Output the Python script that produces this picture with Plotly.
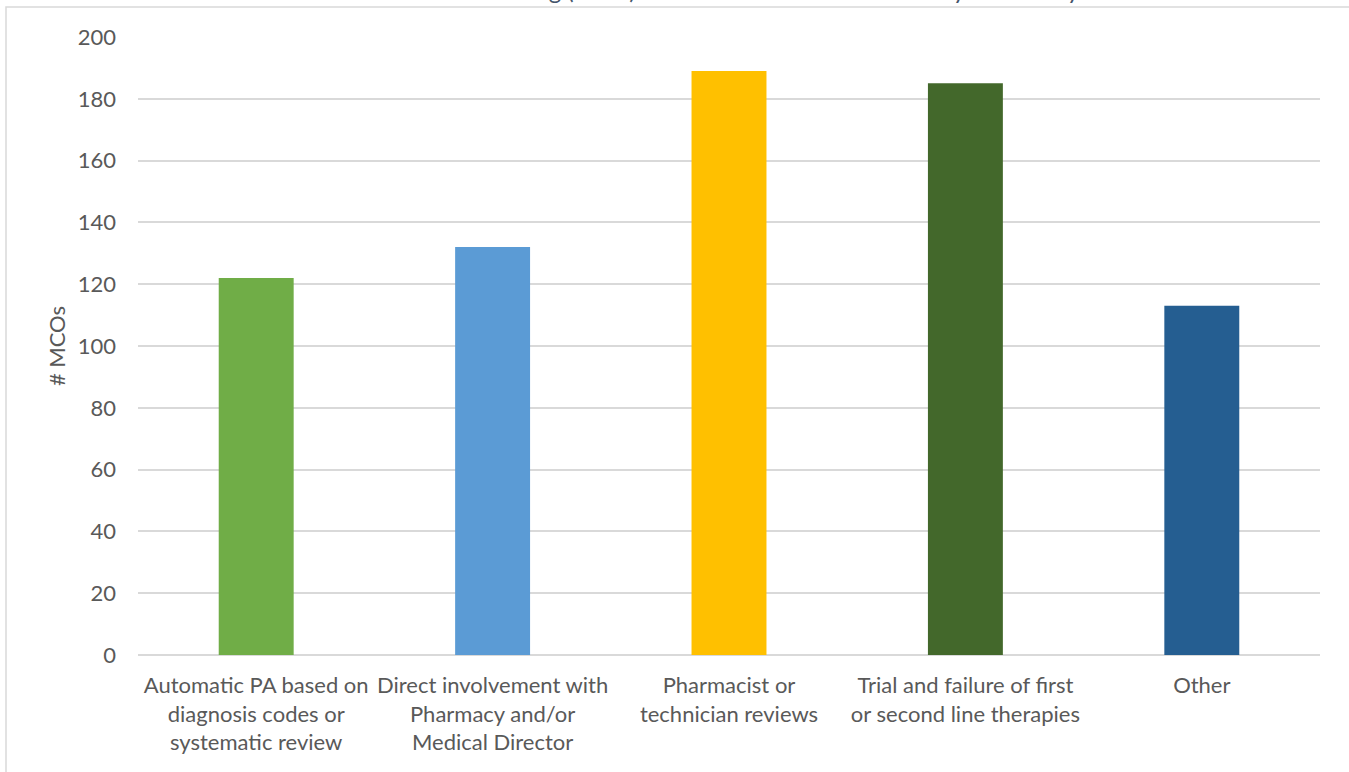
import plotly.graph_objects as go

# Review approaches reported by MCOs
categories = [
    "Automatic PA based on<br>diagnosis codes or<br>systematic review",
    "Direct involvement with<br>Pharmacy and/or<br>Medical Director",
    "Pharmacist or<br>technician reviews",
    "Trial and failure of first<br>or second line therapies",
    "Other",
]
mco_counts = [122, 132, 189, 185, 113]
bar_colors = ["#70AD47", "#5B9BD5", "#FFC000", "#43682B", "#255E91"]
y_ticks = [0, 20, 40, 60, 80, 100, 120, 140, 160, 180, 200]

W, H = 1349, 772
L, R, T, B = 138, 29, 37, 117
pw, ph = W - L - R, H - T - B


def px_to_paper_x(px):
    return (px - L) / pw


def px_to_paper_y(py):
    return (H - B - py) / ph


font_family = "Lato, 'Open Sans', sans-serif"
label_size = 22

fig = go.Figure(
    go.Bar(
        x=categories,
        y=mco_counts,
        marker=dict(color=bar_colors, line=dict(width=0)),
        hoverinfo="x+y",
    )
)

fig.update_layout(
    width=W,
    height=H,
    margin=dict(l=L, r=R, t=T, b=B),
    paper_bgcolor="white",
    plot_bgcolor="white",
    bargap=0.683,
    showlegend=False,
    font=dict(family=font_family, size=label_size, color="#595959"),
    xaxis=dict(
        showgrid=False,
        showline=False,
        ticks="",
        tickfont=dict(size=label_size, color="#595959"),
        ticklabelstandoff=15,
    ),
    yaxis=dict(
        range=[0, 200],
        tickvals=y_ticks,
        showgrid=True,
        gridcolor="#D9D9D9",
        gridwidth=1.5,
        zeroline=True,
        zerolinecolor="#D9D9D9",
        zerolinewidth=1.5,
        showline=False,
        ticks="",
        tickfont=dict(size=label_size, color="#595959"),
        ticklabelstandoff=21,
        title=dict(text="# MCOs", font=dict(size=label_size, color="#595959"), standoff=6),
    ),
    shapes=[
        dict(
            type="rect",
            xref="paper",
            yref="paper",
            x0=px_to_paper_x(6),
            x1=px_to_paper_x(W + 10),
            y0=px_to_paper_y(H + 10),
            y1=px_to_paper_y(7),
            line=dict(color="#D9D9D9", width=1.5),
            fillcolor="rgba(0,0,0,0)",
            layer="below",
        )
    ],
    annotations=[
        dict(
            text="Criteria Used for Determining (CUM) When a Treatment is Medically Necessary",
            xref="paper",
            yref="paper",
            x=px_to_paper_x(665),
            y=px_to_paper_y(6),
            xanchor="center",
            yanchor="bottom",
            showarrow=False,
            font=dict(size=24, color="#44546A", family=font_family),
        )
    ],
)

fig.write_html("out.html")
